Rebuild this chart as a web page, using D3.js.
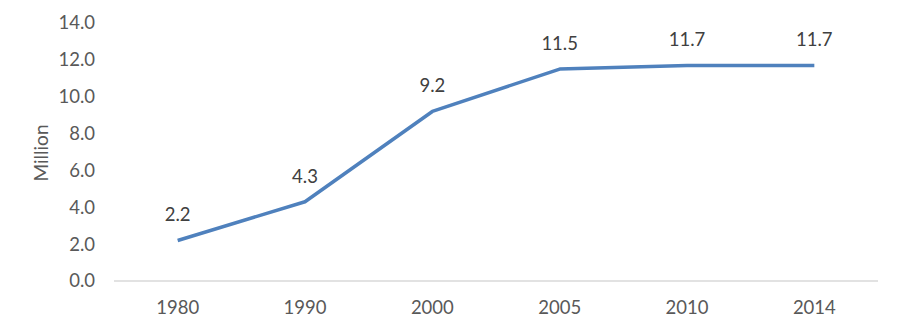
<!DOCTYPE html>
<html>
<head>
<meta charset="utf-8">
<script src="https://cdn.jsdelivr.net/npm/d3@7"></script>
<style>
  html, body { margin: 0; padding: 0; background: #fff; }
  svg { display: block; }
  text { font-family: Lato, "Open Sans", sans-serif; }
</style>
</head>
<body>
<svg id="chart" width="902" height="334"></svg>
<script>
// Population by year, in millions
const years = ["1980", "1990", "2000", "2005", "2010", "2014"];
const values = [2.2, 4.3, 9.2, 11.5, 11.7, 11.7];
const yTicks = [0, 2, 4, 6, 8, 10, 12, 14];
const yLabel = "Million";

const W = 902, H = 334;
const margin = { left: 114, right: 24, top: 23, bottom: 53 };
const fontSize = "18.5px";

const svg = d3.select("#chart");

const x = d3.scaleBand()
  .domain(years)
  .range([margin.left, W - margin.right])
  .paddingInner(0)
  .paddingOuter(0);

const y = d3.scaleLinear()
  .domain([0, 14])
  .range([H - margin.bottom, margin.top]);

const cx = d => x(d) + x.bandwidth() / 2;

// Baseline
svg.append("line")
  .attr("x1", margin.left).attr("x2", W - margin.right)
  .attr("y1", y(0)).attr("y2", y(0))
  .attr("stroke", "#d9d9d9").attr("stroke-width", 1.3);

// Y axis tick labels
const yAxis = d3.axisLeft(y)
  .tickValues(yTicks)
  .tickFormat(d3.format(".1f"))
  .tickSize(0)
  .tickPadding(0);
const yg = svg.append("g")
  .attr("transform", `translate(${margin.left - 19},0)`)
  .call(yAxis);
yg.select(".domain").remove();
yg.selectAll("text")
  .attr("fill", "#595959")
  .style("font-size", fontSize)
  .style("font-family", "Lato, 'Open Sans', sans-serif");

// X axis tick labels
const xAxis = d3.axisBottom(x).tickSize(0).tickPadding(0);
const xg = svg.append("g")
  .attr("transform", `translate(0,${y(0)})`)
  .call(xAxis);
xg.select(".domain").remove();
xg.selectAll("text")
  .attr("dy", null)
  .attr("y", 33)
  .attr("fill", "#595959")
  .style("font-size", fontSize)
  .style("font-family", "Lato, 'Open Sans', sans-serif");

// Y axis title
svg.append("text")
  .attr("transform", `translate(48,${(y(0) + y(14)) / 2 + 1}) rotate(-90)`)
  .attr("text-anchor", "middle")
  .attr("fill", "#595959")
  .style("font-size", "19px")
  .text(yLabel);

// Series line
const pts = years.map((yr, i) => ({ yr, v: values[i] }));
svg.append("path")
  .datum(pts)
  .attr("fill", "none")
  .attr("stroke", "#4f81bd")
  .attr("stroke-width", 3.5)
  .attr("stroke-linejoin", "round")
  .attr("d", d3.line().x(d => cx(d.yr)).y(d => y(d.v)));

// Data labels
svg.selectAll(".dl")
  .data(pts)
  .join("text")
  .attr("class", "dl")
  .attr("x", d => cx(d.yr))
  .attr("y", d => y(d.v) - 19)
  .attr("text-anchor", "middle")
  .attr("fill", "#404040")
  .style("font-size", fontSize)
  .text(d => d3.format(".1f")(d.v));
</script>
</body>
</html>
